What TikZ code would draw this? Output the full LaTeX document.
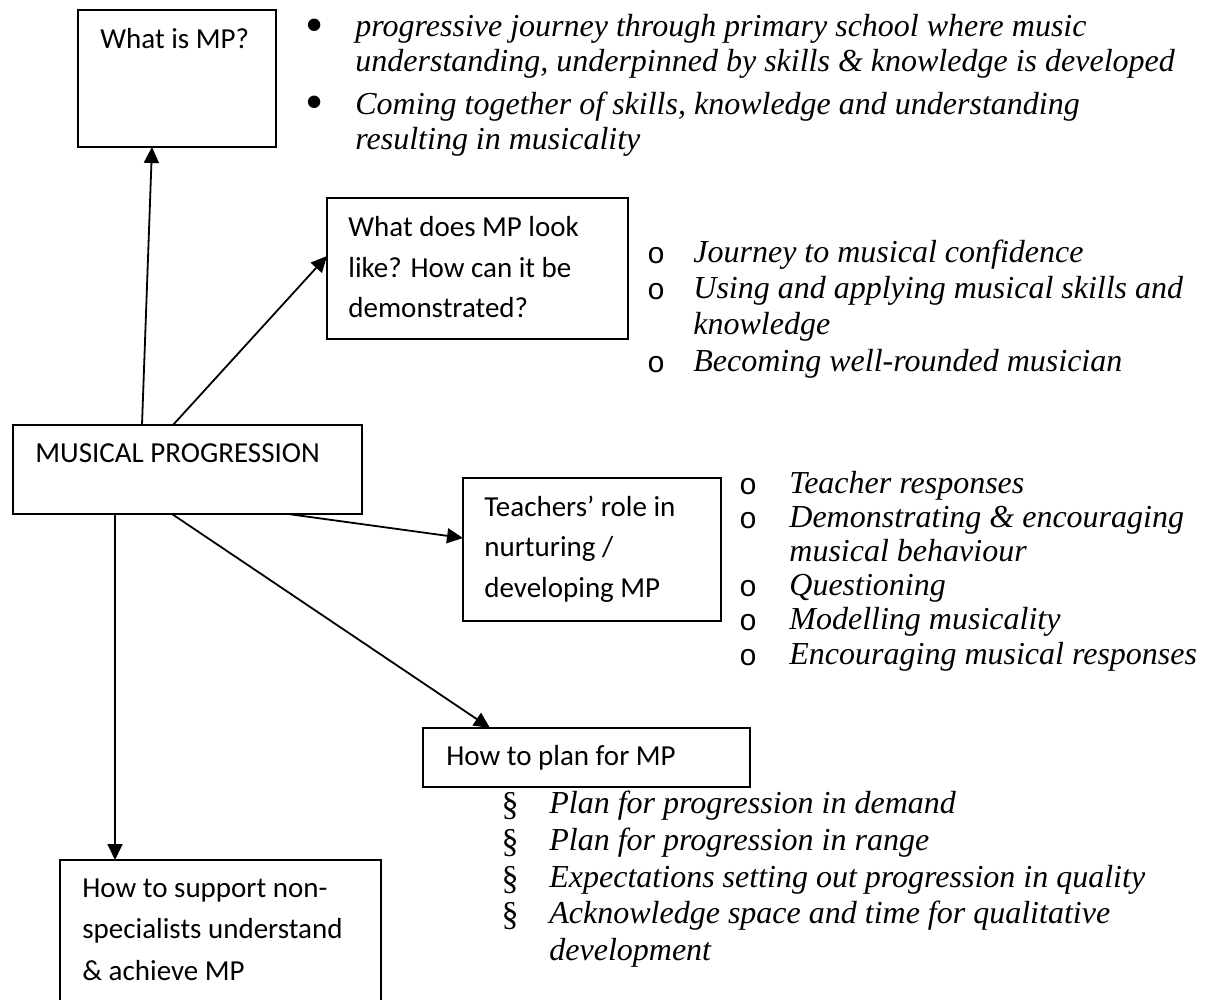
\documentclass[tikz,border=0pt]{standalone}
\usepackage{fontspec}
\setmainfont{Liberation Serif}
\newfontfamily\boxfont{Carlito}
\newfontfamily\ringfont{Liberation Mono}
\usetikzlibrary{arrows.meta,calc}

\tikzset{
  box/.style={draw, line width=1pt, inner sep=0pt, outer sep=0pt},
  boxtext/.style={anchor=base west, inner sep=0pt, font=\boxfont\fontsize{14.5}{17}\selectfont},
  itemtext/.style={anchor=base west, inner sep=0pt, font=\itshape\fontsize{16}{18}\selectfont},
  dotbullet/.style={inner sep=0pt, font=\fontsize{26}{28}\selectfont},
  ringbullet/.style={inner sep=0pt, font=\ringfont\fontsize{15}{17}\selectfont},
  secbullet/.style={inner sep=0pt, font=\fontsize{17}{19}\selectfont},
  link/.style={line width=0.9pt, -{Triangle[length=8pt,width=7.5pt]}}
}

\begin{document}
\begin{tikzpicture}[x=0.5pt,y=0.5pt,yscale=-1,xscale=1]
\useasboundingbox (0,0) rectangle (1207,1000);

%Boxes
\node[box, minimum width=99pt, minimum height=68.5pt] (whatbox) at (177,78.5) {};
\node[box, minimum width=150.5pt, minimum height=70.5pt] (lookbox) at (477.5,268.5) {};
\node[box, minimum width=174.5pt, minimum height=44.5pt] (musical) at (187.5,469.5) {};
\node[box, minimum width=129pt, minimum height=71.5pt] (teachbox) at (592,549.5) {};
\node[box, minimum width=163.5pt, minimum height=29.5pt] (planbox) at (586.5,757.5) {};
\node[box, minimum width=160.5pt, minimum height=80pt] (supportbox) at (220.5,940) {};

% Text Node
\node[boxtext] (whatA) at (100,49) {What is MP?};
% Text Node
\node[boxtext] (lookA) at (348,237) {What does MP look};
\node[boxtext] (lookB) at (348,278) {like? How can it be};
\node[boxtext] (lookC) at (348,318) {demonstrated?};
% Text Node
\node[boxtext] (musicalA) at (35,463) {MUSICAL PROGRESSION};
% Text Node
\node[boxtext] (teachA) at (484,517) {Teachers’ role in};
\node[boxtext] (teachB) at (484,557) {nurturing /};
\node[boxtext] (teachC) at (484,598) {developing MP};
% Text Node
\node[boxtext] (planA) at (446,766) {How to plan for MP};
% Text Node
\node[boxtext] (supportA) at (82,897) {How to support non-};
\node[boxtext] (supportB) at (82,938) {specialists understand};
\node[boxtext] (supportC) at (82,980) {\& achieve MP};

%Straight Lines
\draw[link] ($(musical.north west)+(129,0)$) -- ($(whatbox.south west)+(74,0)$);
\draw[link] ($(musical.north west)+(160,0)$) -- ($(lookbox.west)+(0,-12.5)$);
\draw[link] ($(musical.south west)+(275,0)$) -- ($(teachbox.west)+(0,-11.5)$);
\draw[link] ($(musical.south west)+(159,0)$) -- ($(planbox.north west)+(67,0)$);
\draw[link] ($(musical.south west)+(102,0)$) -- ($(supportbox.north west)+(55,0)$);

% What is MP list
\node[dotbullet] (dot1) at (315,31) {•};
\node[dotbullet] (dot2) at (315,108) {•};
\node[itemtext] (whatI1) at (355,37) {progressive journey through primary school where music};
\node[itemtext] (whatI2) at (355,72) {understanding, underpinned by skills \& knowledge is developed};
\node[itemtext] (whatI3) at (355,115) {Coming together of skills, knowledge and understanding};
\node[itemtext] (whatI4) at (355,150) {resulting in musicality};

% What does MP look like list
\node[ringbullet] (ring1) at (656,256) {o};
\node[ringbullet] (ring2) at (656,292) {o};
\node[ringbullet] (ring3) at (656,365) {o};
\node[itemtext] (lookI1) at (693,263) {Journey to musical confidence};
\node[itemtext] (lookI2) at (693,299) {Using and applying musical skills and};
\node[itemtext] (lookI3) at (693,335) {knowledge};
\node[itemtext] (lookI4) at (693,372) {Becoming well-rounded musician};

% Teachers list
\node[ringbullet] (ring4) at (748,487) {o};
\node[ringbullet] (ring5) at (748,521) {o};
\node[ringbullet] (ring6) at (748,589) {o};
\node[ringbullet] (ring7) at (748,623) {o};
\node[ringbullet] (ring8) at (748,658) {o};
\node[itemtext] (teachI1) at (789,494) {Teacher responses};
\node[itemtext] (teachI2) at (789,528) {Demonstrating \& encouraging};
\node[itemtext] (teachI3) at (789,562) {musical behaviour};
\node[itemtext] (teachI4) at (789,596) {Questioning};
\node[itemtext] (teachI5) at (789,630) {Modelling musicality};
\node[itemtext] (teachI6) at (789,665) {Encouraging musical responses};

% Plan list
\node[secbullet] (sec1) at (510,806) {§};
\node[secbullet] (sec2) at (510,843) {§};
\node[secbullet] (sec3) at (510,880) {§};
\node[secbullet] (sec4) at (510,916) {§};
\node[itemtext] (planI1) at (549,813) {Plan for progression in demand};
\node[itemtext] (planI2) at (549,850) {Plan for progression in range};
\node[itemtext] (planI3) at (549,887) {Expectations setting out progression in quality};
\node[itemtext] (planI4) at (549,923) {Acknowledge space and time for qualitative};
\node[itemtext] (planI5) at (549,960) {development};

\end{tikzpicture}
\end{document}
